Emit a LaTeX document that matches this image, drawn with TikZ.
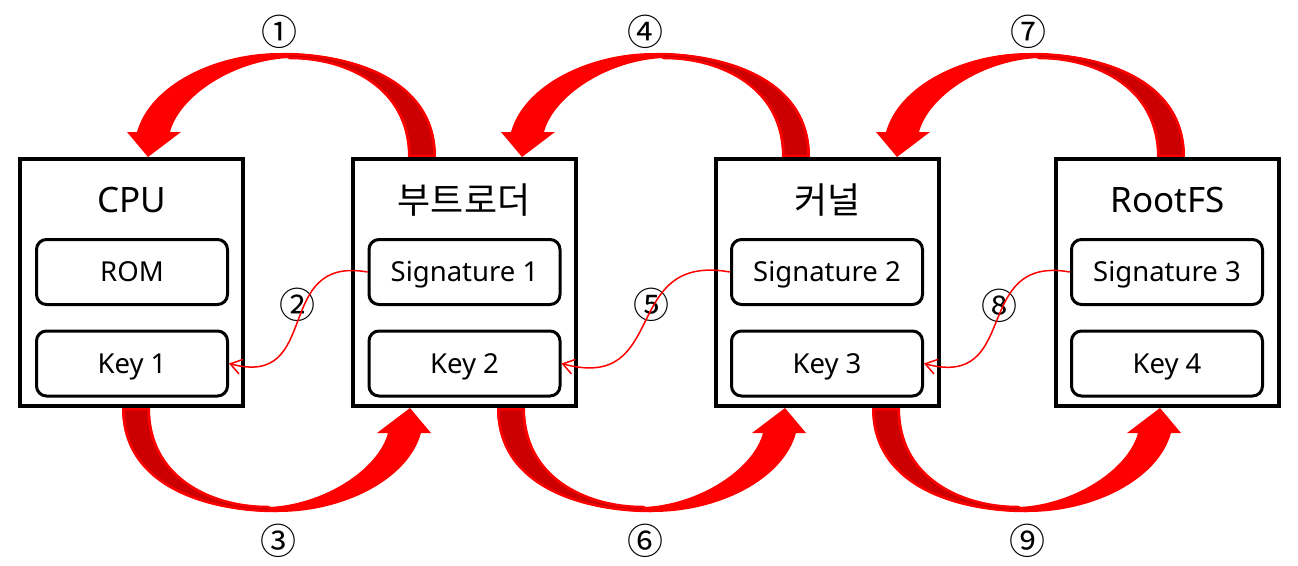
\documentclass[tikz,border=0pt]{standalone}
\usepackage{fontspec}
\setmainfont{Noto Sans}
\newfontfamily\krfont{Noto Sans CJK KR}
\usetikzlibrary{arrows.meta}
\definecolor{arrowred}{HTML}{FF0000}
\definecolor{arrowdark}{HTML}{CC0000}
\begin{document}
\begin{tikzpicture}[x=1pt,y=-1pt,
  outerbox/.style={draw=black,line width=4pt,minimum width=223pt,minimum height=247pt,inner sep=0pt},
  innerbox/.style={draw=black,line width=3pt,rounded corners=10pt,minimum width=191pt,minimum height=65pt,inner sep=0pt,text height=19.6pt,text depth=0pt,font=\fontsize{27.5}{30}\selectfont},
  title/.style={font=\fontsize{35}{40}\selectfont,inner sep=0pt},
  krtitle/.style={font=\krfont\fontsize{36}{40}\selectfont,inner sep=0pt},
  num/.style={font=\krfont\fontsize{36}{40}\selectfont,inner sep=0pt},
  sig/.style={draw=arrowred,line width=1.5pt,-{Straight Barb[length=11pt,width=15pt,line width=1.5pt]},looseness=1.5},
  bigarrow/.pic={
    \fill[arrowred] (157,-125.5) .. controls (157,-207.5) and (66,-229.5) .. (1,-229.5)
      .. controls (-64,-229.5) and (-129,-197.5) .. (-142,-150.5)
      -- (-152,-150.5) -- (-131,-125.5) -- (-98,-150.5) -- (-109,-150.5)
      .. controls (-99,-187.5) and (-44,-222.5) .. (11,-224.5)
      .. controls (71,-224.5) and (129,-192.5) .. (129,-125.5) -- cycle;
    \filldraw[fill=arrowdark,draw=arrowred,line width=2.5pt,line join=round]
      (155.5,-126.5) .. controls (155.5,-206.5) and (66,-228.5) .. (3,-228.5)
      -- (11,-224.5) .. controls (71,-224.5) and (130.5,-192.5) .. (130.5,-126.5) -- cycle;
  }
]
\useasboundingbox (0,0) rectangle (1298,565);

% big curved arrows
\pic at (279,282.5) {bigarrow};
\pic at (653,282.5) {bigarrow};
\pic at (1028,282.5) {bigarrow};
\pic[rotate=180] at (279,282.5) {bigarrow};
\pic[rotate=180] at (654,282.5) {bigarrow};
\pic[rotate=180] at (1029,282.5) {bigarrow};

% boxes
\node[outerbox] (cpu) at (131.5,282.5) {};
\node[title] (cpuT) at (131.5,200) {CPU};
\node[innerbox] (rom) at (132,272) {ROM};
\node[innerbox] (k1) at (132,363.5) {Key 1};

\node[outerbox] (boot) at (464,282.5) {};
\node[krtitle] (bootT) at (464,200) {부트로더};
\node[innerbox] (s1) at (464.5,272) {Signature 1};
\node[innerbox] (k2) at (464.5,363.5) {Key 2};

\node[outerbox] (kern) at (827.5,282.5) {};
\node[krtitle] (kernT) at (827.5,200) {커널};
\node[innerbox] (s2) at (827,272) {Signature 2};
\node[innerbox] (k3) at (827,363.5) {Key 3};

\node[outerbox] (rfs) at (1167.5,282.5) {};
\node[title] (rfsT) at (1167.5,200) {RootFS};
\node[innerbox] (s3) at (1167,272) {Signature 3};
\node[innerbox] (k4) at (1167,363.5) {Key 4};

% step numbers
\node[num] (n1) at (279,32) {①};
\node[num] (n4) at (645,32) {④};
\node[num] (n7) at (1028,32) {⑦};
\node[num] (n3) at (278,541) {③};
\node[num] (n6) at (645,541) {⑥};
\node[num] (n9) at (1027,541) {⑨};
\node[num] (n2) at (297,305) {②};
\node[num] (n5) at (651,305) {⑤};
\node[num] (n8) at (999,306) {⑧};

% signature -> key connectors
\draw[sig] (s1.west) to[out=170,in=-15] (k1.east);
\draw[sig] (s2.west) to[out=170,in=-15] (k2.east);
\draw[sig] (s3.west) to[out=170,in=-15] (k3.east);
\end{tikzpicture}
\end{document}
